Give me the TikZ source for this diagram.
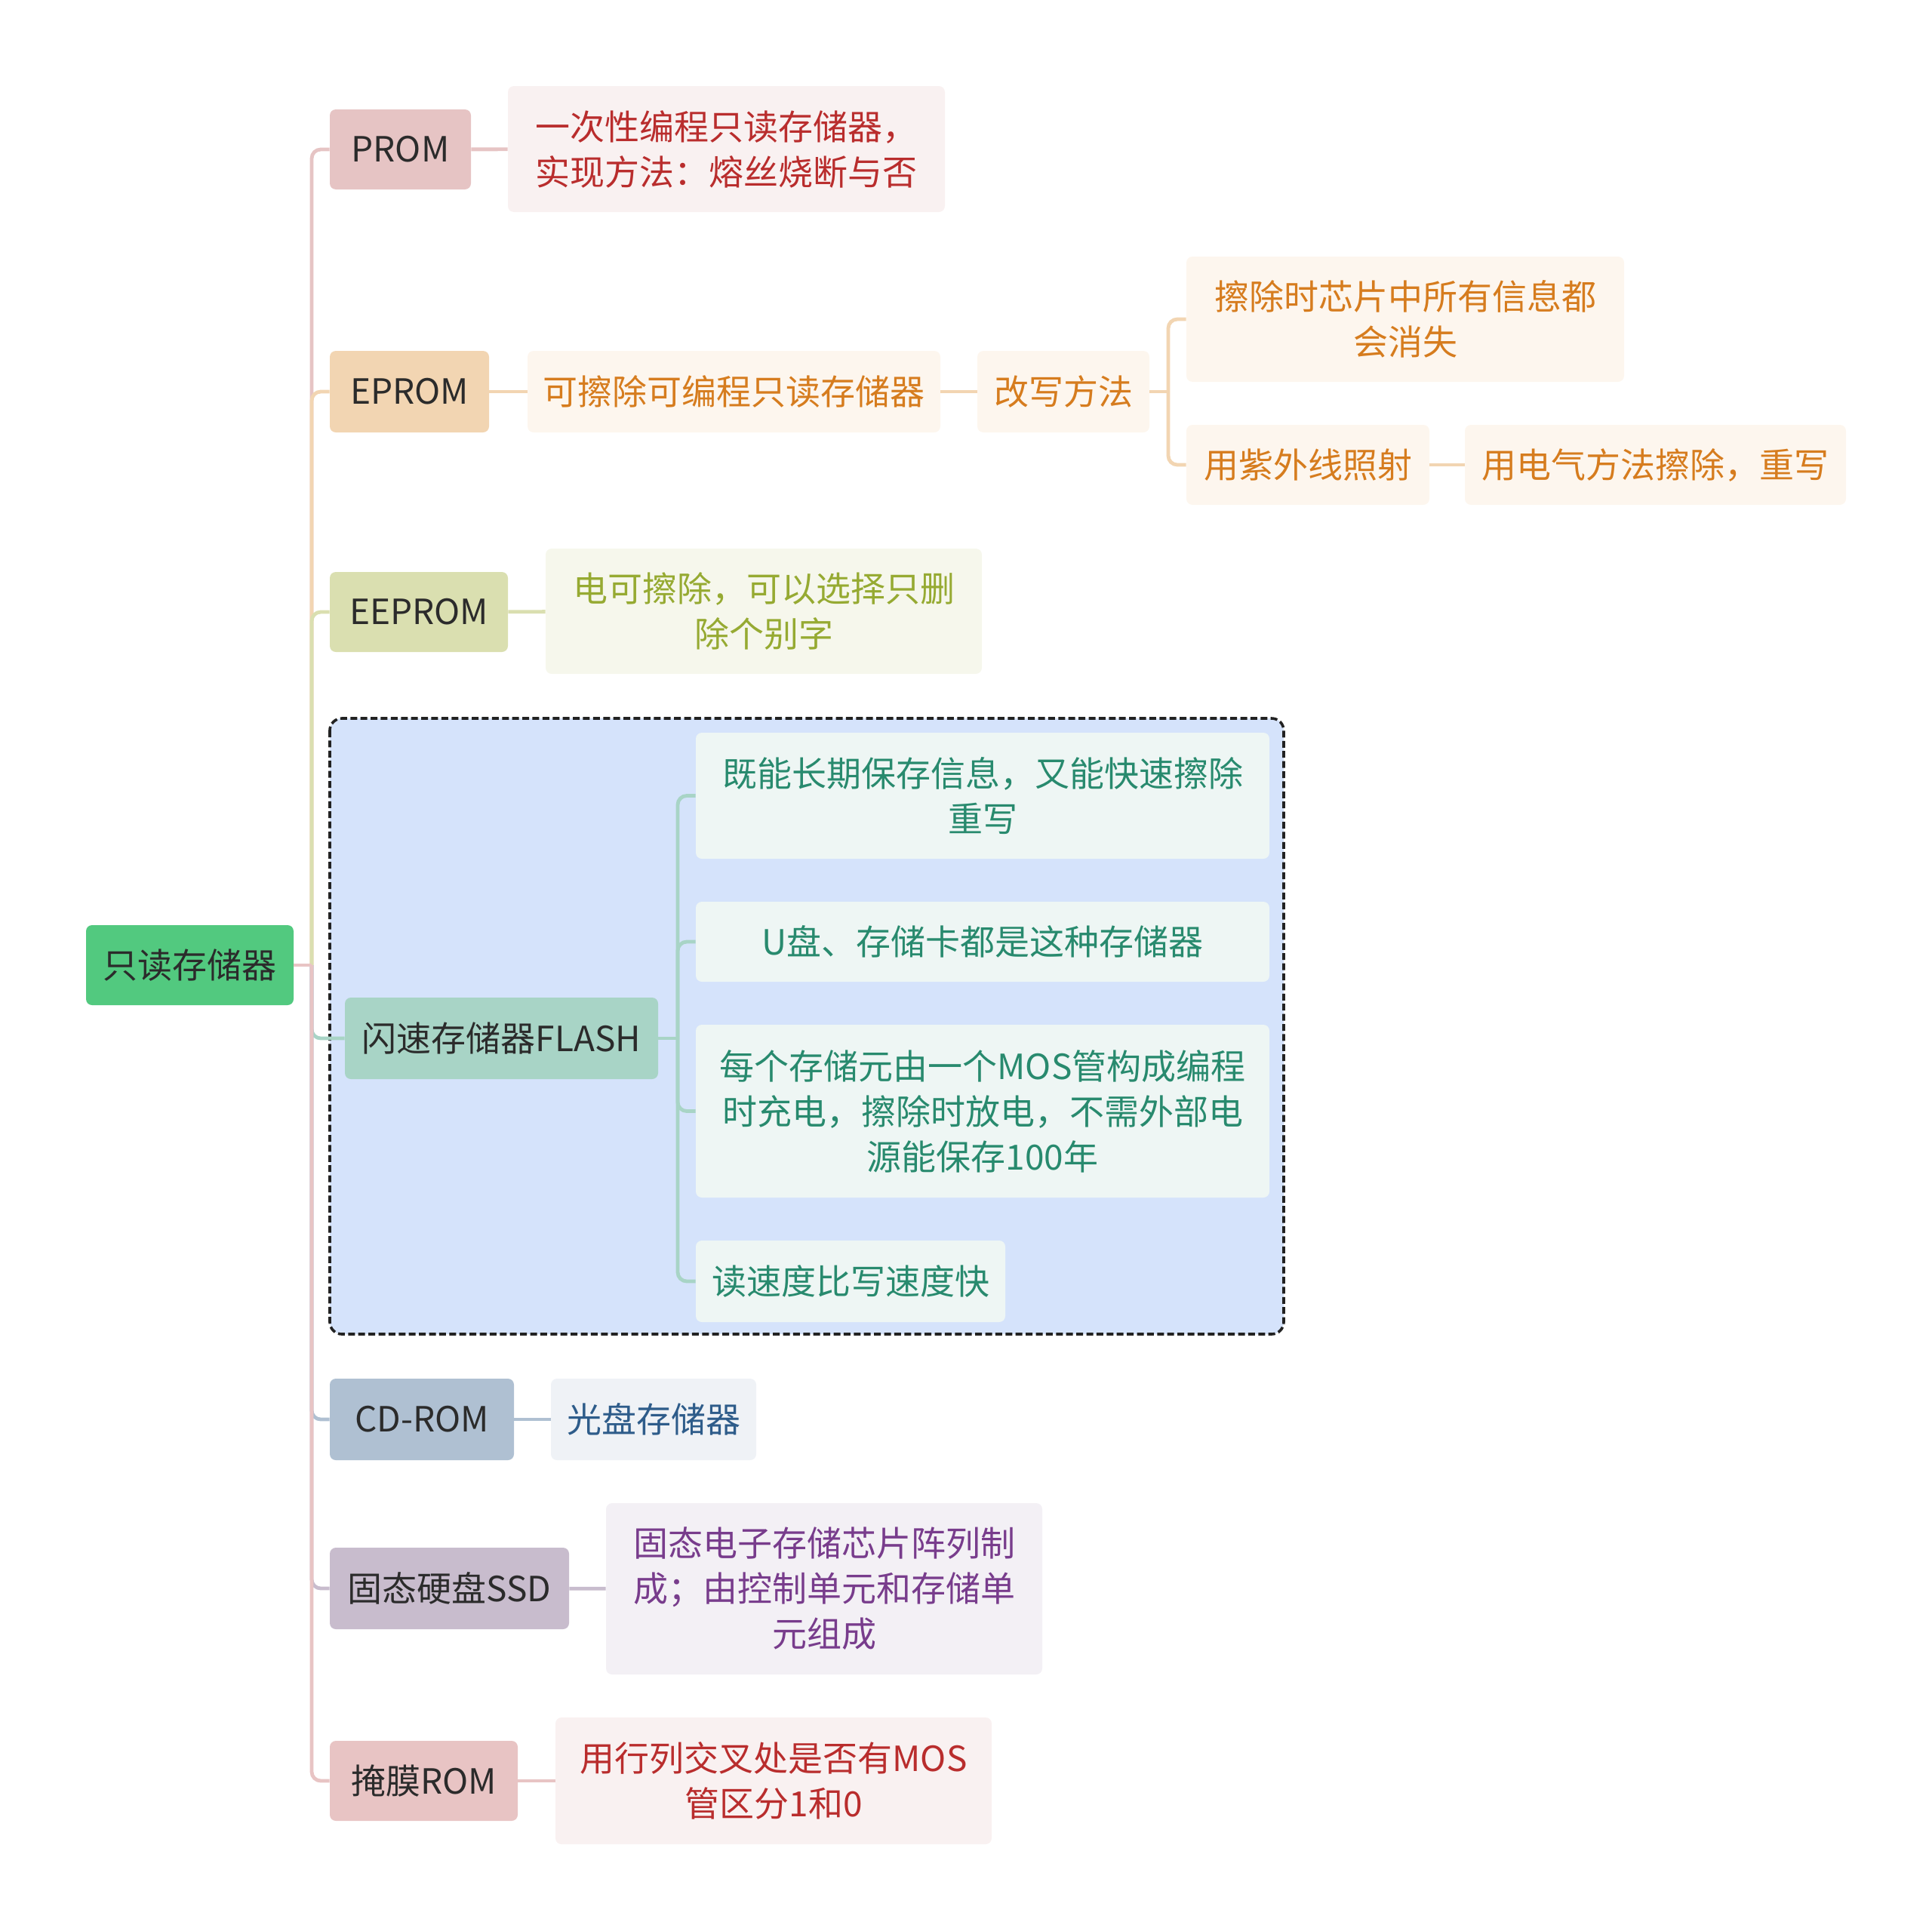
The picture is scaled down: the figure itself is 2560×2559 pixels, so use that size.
\documentclass[tikz,border=0pt]{standalone}
\usepackage{fontspec}
\setmainfont{Noto Sans CJK SC}
\definecolor{maintext}{HTML}{2B2B2B}
\definecolor{zoneline}{HTML}{222222}
\definecolor{rootfill}{HTML}{52C97F}
\definecolor{promfill}{HTML}{E6C4C4}
\definecolor{promsub}{HTML}{F9F1F1}
\definecolor{promtext}{HTML}{B92D2D}
\definecolor{epromfill}{HTML}{F2D5B2}
\definecolor{epromsub}{HTML}{FDF6EE}
\definecolor{epromtext}{HTML}{D67C1E}
\definecolor{eepromfill}{HTML}{DADFB0}
\definecolor{eepromsub}{HTML}{F6F7EC}
\definecolor{eepromtext}{HTML}{96AA32}
\definecolor{flashfill}{HTML}{A8D4C6}
\definecolor{flashsub}{HTML}{EEF6F4}
\definecolor{flashtext}{HTML}{288A6E}
\definecolor{flashzone}{HTML}{D5E3FB}
\definecolor{cdfill}{HTML}{AFC0D2}
\definecolor{cdsub}{HTML}{EFF2F6}
\definecolor{cdtext}{HTML}{2E5C8A}
\definecolor{ssdfill}{HTML}{C8BCCD}
\definecolor{ssdsub}{HTML}{F3F0F5}
\definecolor{ssdtext}{HTML}{783C8C}
\definecolor{maskfill}{HTML}{E8C4C4}
\begin{document}
\begin{tikzpicture}[x=0.5pt,y=-0.5pt,
	box/.style={rounded corners=4pt,inner sep=0,align=center,
		font=\fontsize{23}{30}\selectfont,text=maintext},
	sz/.style 2 args={minimum width=#1*0.5pt,minimum height=#2*0.5pt},
	link/.style={line width=2.4pt},
	fork/.style={line width=2.4pt,rounded corners=6pt}]
	\useasboundingbox (0,0) rectangle (2560,2559);
	% flash zone
	\draw[zoneline,dash pattern=on 4.5pt off 2.2pt,line width=1.8pt,rounded corners=8pt,fill=flashzone] (437,952) rectangle (1701,1768);
	% root and first level
	\node[box,fill=rootfill,sz={275}{106}] (root) at (251.5,1279) {只读存储器};
	\node[box,fill=promfill,sz={187}{106}] (prom) at (530.5,198) {PROM};
	\node[box,fill=epromfill,sz={211}{108}] (eprom) at (542.5,519) {EPROM};
	\node[box,fill=eepromfill,sz={236}{106}] (eeprom) at (555,811) {EEPROM};
	\node[box,fill=flashfill,sz={415}{108}] (flash) at (664.5,1376) {闪速存储器FLASH};
	\node[box,fill=cdfill,sz={244}{108}] (cd) at (559,1881) {CD-ROM};
	\node[box,fill=ssdfill,sz={317}{108}] (ssd) at (595.5,2105) {固态硬盘SSD};
	\node[box,fill=maskfill,sz={249}{106}] (mask) at (561.5,2360) {掩膜ROM};
	% details
	\node[box,fill=promsub,text=promtext,sz={579}{167}] (promd) at (962.5,197.5) {一次性编程只读存储器，\\实现方法：熔丝烧断与否};
	\node[box,fill=epromsub,text=epromtext,sz={547}{108}] (epromd) at (972.5,519) {可擦除可编程只读存储器};
	\node[box,fill=epromsub,text=epromtext,sz={228}{108}] (rewrite) at (1409,519) {改写方法};
	\node[box,fill=epromsub,text=epromtext,sz={580}{166}] (wipe) at (1862,423) {擦除时芯片中所有信息都\\会消失};
	\node[box,fill=epromsub,text=epromtext,sz={322}{106}] (uv) at (1733,616) {用紫外线照射};
	\node[box,fill=epromsub,text=epromtext,sz={505}{106}] (elec) at (2193.5,616) {用电气方法擦除，重写};
	\node[box,fill=eepromsub,text=eepromtext,sz={578}{166}] (eepromd) at (1012,810) {电可擦除，可以选择只删\\除个别字};
	\node[box,fill=flashsub,text=flashtext,sz={760}{167}] (fa) at (1302,1054.5) {既能长期保存信息，又能快速擦除\\重写};
	\node[box,fill=flashsub,text=flashtext,sz={760}{106}] (fb) at (1302,1248) {U盘、存储卡都是这种存储器};
	\node[box,fill=flashsub,text=flashtext,sz={760}{229}] (fc) at (1302,1472.5) {每个存储元由一个MOS管构成编程\\时充电，擦除时放电，不需外部电\\源能保存100年};
	\node[box,fill=flashsub,text=flashtext,sz={410}{108}] (fd) at (1127,1698) {读速度比写速度快};
	\node[box,fill=cdsub,text=cdtext,sz={272}{108}] (cdd) at (866,1881) {光盘存储器};
	\node[box,fill=ssdsub,text=ssdtext,sz={578}{227}] (ssdd) at (1092,2105.5) {固态电子存储芯片阵列制\\成；由控制单元和存储单\\元组成};
	\node[box,fill=promsub,text=promtext,sz={578}{168}] (maskd) at (1025,2360) {用行列交叉处是否有MOS\\管区分1和0};
	% trunk
	\coordinate (trunk) at (413,1279);
	\draw[fork,promfill] (trunk) |- (prom.west);
	\draw[fork,epromfill] (trunk) |- (eprom.west);
	\draw[fork,eepromfill] (trunk) |- (eeprom.west);
	\draw[fork,flashfill] (trunk) |- (flash.west);
	\draw[fork,cdfill] (trunk) |- (cd.west);
	\draw[fork,ssdfill] (trunk) |- (ssd.west);
	\draw[fork,maskfill] (trunk) |- (mask.west);
	\draw[link,maskfill] (root.east) -- (trunk);
	% branches
	\draw[link,promfill] (prom) -- (promd);
	\draw[link,epromfill] (eprom) -- (epromd);
	\draw[link,epromfill] (epromd) -- (rewrite);
	\coordinate (rwfork) at (1548,519);
	\draw[link,epromfill] (rewrite) -- (rwfork);
	\draw[fork,epromfill] (rwfork) |- (wipe.west);
	\draw[fork,epromfill] (rwfork) |- (uv.west);
	\draw[link,epromfill] (uv) -- (elec);
	\draw[link,eepromfill] (eeprom) -- (eepromd);
	\coordinate (flfork) at (898,1376);
	\draw[link,flashfill] (flash) -- (flfork);
	\draw[fork,flashfill] (flfork) |- (fa.west);
	\draw[fork,flashfill] (flfork) |- (fb.west);
	\draw[fork,flashfill] (flfork) |- (fc.west);
	\draw[fork,flashfill] (flfork) |- (fd.west);
	\draw[link,cdfill] (cd) -- (cdd);
	\draw[link,ssdfill] (ssd) -- (ssdd);
	\draw[link,maskfill] (mask) -- (maskd);
\end{tikzpicture}
\end{document}
